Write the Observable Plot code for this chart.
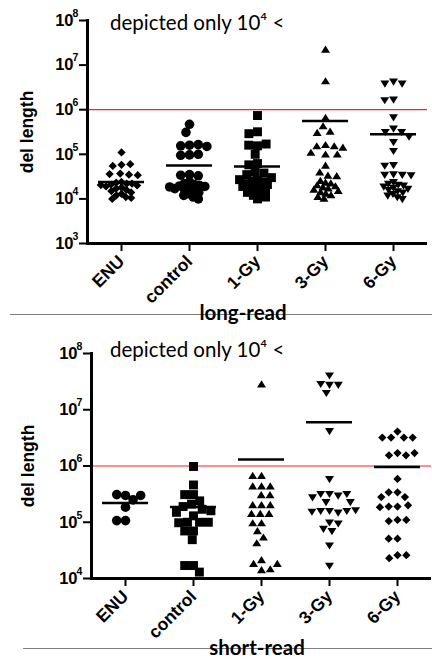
<!DOCTYPE html>
<html>
<head>
<meta charset="utf-8">
<script src="https://cdn.jsdelivr.net/npm/d3@7"></script>
<script src="https://cdn.jsdelivr.net/npm/@observablehq/plot@0.6"></script>
<style>
  body { margin: 0; background: #fff; }
  #wrap { position: relative; width: 432px; height: 660px; overflow: hidden; background: #fff; }
  .panel { position: absolute; left: 0; }
  .note { position: absolute; font-family: Lato, "Open Sans", sans-serif; font-size: 20.5px; line-height: 20px; color: #000; white-space: nowrap; }
  .sep { position: absolute; height: 1px; background: #7f7f7f; }
  .cap { position: absolute; width: 200px; text-align: center; font-family: Lato, "Open Sans", sans-serif; font-weight: bold; font-size: 20.5px; line-height: 20px; color: #000; }
  svg [aria-label="y-axis label"] text { font-size: 17.5px; }
</style>
</head>
<body>
<div id="wrap">
  <div class="panel" id="top" style="top:0px"></div>
  <div class="note" style="left:110px;top:12px">depicted only 10⁴ &lt;</div>
  <div class="sep" style="left:10px;top:314px;width:422px"></div>
  <div class="cap" style="left:143px;top:302px">long-read</div>

  <div class="panel" id="bottom" style="top:330px"></div>
  <div class="note" style="left:110px;top:339px">depicted only 10⁴ &lt;</div>
  <div class="sep" style="left:23px;top:648px;width:409px"></div>
  <div class="cap" style="left:157px;top:637px">short-read</div>
</div>
<script>
// ---------- data ----------
const groups = ["ENU", "control", "1-Gy", "3-Gy", "6-Gy"];

// long-read deletion lengths (bp)
const longENU = [110000, 58000, 55000, 60000, 37000, 35000, 36000, 34000, 24000, 23000, 22000, 22000, 21000, 20000, 19000, 18000, 17000, 16000, 15000, 14000, 13000, 12000, 11000, 10000, 10500, 20500];
const longControl = [470000, 310000, 160000, 155000, 165000, 150000, 97000, 95000, 100000, 35000, 34000, 33000, 24000, 22000, 21000, 20000, 19500, 19000, 18000, 17000, 16000, 15000, 14000, 13000, 12000, 11000, 10000, 18500];
const longGy1 = [740000, 320000, 290000, 155000, 160000, 170000, 100000, 62000, 58000, 40000, 38000, 35000, 30000, 27000, 26000, 25000, 24000, 22000, 21000, 20000, 19000, 18000, 17000, 16000, 15000, 14000, 13000, 12000, 11000, 10000];
const longGy3 = [22000000, 4300000, 650000, 420000, 320000, 300000, 160000, 150000, 150000, 140000, 107000, 98000, 98000, 55000, 39000, 33000, 32000, 23000, 25000, 22000, 20000, 19000, 18000, 17000, 16000, 15000, 14000, 13000, 12000, 11000, 10000];
const longGy6 = [4300000, 3900000, 3900000, 1700000, 1650000, 680000, 380000, 320000, 320000, 250000, 190000, 120000, 58000, 56000, 36000, 35000, 35000, 34000, 24000, 22000, 21000, 20000, 19000, 18000, 17000, 16000, 15000, 14000, 13000, 12000, 11000, 10000];
const longMeans = [24000, 56000, 53000, 560000, 280000];

// short-read deletion lengths (bp)
const shortENU = [300000, 310000, 250000, 300000, 185000, 107000, 107000];
const shortControl = [980000, 460000, 310000, 310000, 240000, 210000, 190000, 170000, 160000, 150000, 130000, 100000, 100000, 100000, 98000, 70000, 70000, 49000, 17000, 17000, 13000];
const shortGy1 = [28000000, 660000, 660000, 430000, 430000, 430000, 300000, 300000, 200000, 200000, 200000, 140000, 140000, 140000, 95000, 95000, 69000, 53000, 42000, 21000, 18000, 14000, 14500, 18000];
const shortGy3 = [41000000, 28000000, 29000000, 20000000, 28000000, 4200000, 590000, 320000, 320000, 300000, 320000, 280000, 230000, 230000, 160000, 160000, 150000, 160000, 155000, 165000, 100000, 77000, 96000, 70000, 39000, 17000];
const shortGy6 = [4100000, 3200000, 3200000, 3200000, 3200000, 1700000, 1550000, 1550000, 1700000, 590000, 340000, 340000, 280000, 280000, 190000, 190000, 200000, 185000, 110000, 105000, 110000, 51000, 51000, 26000, 23000, 26000];
const shortMeans = [220000, 186000, 1300000, 6000000, 960000];

const longTicks = [1e3, 1e4, 1e5, 1e6, 1e7, 1e8];
const shortTicks = [1e4, 1e5, 1e6, 1e7, 1e8];
const threshold = 1e6;

// ---------- symbols ----------
const circle = {draw(ctx, size) { const r = Math.sqrt(size) * 0.6; ctx.moveTo(r, 0); ctx.arc(0, 0, r, 0, 2 * Math.PI); }};
const square = {draw(ctx, size) { const h = Math.sqrt(size) * 0.56; ctx.rect(-h, -h, 2 * h, 2 * h); }};
const diamond = {draw(ctx, size) { const h = Math.sqrt(size) * 0.52; ctx.moveTo(0, -h); ctx.lineTo(h, 0); ctx.lineTo(0, h); ctx.lineTo(-h, 0); ctx.closePath(); }};
const triUp = {draw(ctx, size) { const w = Math.sqrt(size) * 0.56; const t = w * 1.6; ctx.moveTo(0, -t * 0.6); ctx.lineTo(w, t * 0.4); ctx.lineTo(-w, t * 0.4); ctx.closePath(); }};
const triDown = {draw(ctx, size) { const w = Math.sqrt(size) * 0.56; const t = w * 1.6; ctx.moveTo(0, t * 0.6); ctx.lineTo(w, -t * 0.4); ctx.lineTo(-w, -t * 0.4); ctx.closePath(); }};

const expo = d => String(Math.round(Math.log10(d)));

function panel({series, means, symbols, ticks, domain, marginTop, marginLeft, marginRight, height, denseBelow}) {
  const rows = series.map((vals, i) => vals.map(v => ({group: groups[i], value: v})));
  const meanRows = means.map((m, i) => ({group: groups[i], mean: m}));
  const marks = [
    Plot.ruleY([threshold], {stroke: "#ff2020", strokeWidth: 1.2}),
    Plot.ruleY([domain[0]], {stroke: "black", strokeWidth: 3}),
    Plot.frame({anchor: "left", stroke: "black", strokeWidth: 3, facetAnchor: "left"}),
  ];
  rows.forEach((r, i) => {
    const opts = {fx: "group", y: "value", r: 4.5, symbol: symbols[i], fill: "black", stroke: "none"};
    const sparse = denseBelow ? r.filter(d => d.value > denseBelow) : r;
    const dense = denseBelow ? r.filter(d => d.value <= denseBelow) : [];
    marks.push(Plot.dot(sparse, Plot.dodgeX({anchor: "middle", r: 4, padding: 0.8}, opts)));
    if (dense.length) marks.push(Plot.dot(dense, Plot.dodgeX({anchor: "middle", r: 2.6, padding: 0.2}, opts)));
  });
  marks.push(Plot.tickY(meanRows, {fx: "group", y: "mean", stroke: "black", strokeWidth: 2.5, insetLeft: 11, insetRight: 11}));
  marks.push(Plot.axisY(ticks, {tickSize: 8, strokeWidth: 2, tickPadding: 6, tickFormat: () => "10", fontSize: 16.5, fontWeight: "bold",
    label: "del length", labelAnchor: "center", labelOffset: marginLeft - 20, labelArrow: "none"}));
  marks.push(Plot.axisY(ticks, {tickSize: 0, tickPadding: 6, tickFormat: expo, fontSize: 10.5, fontWeight: "bold", dy: -7, textAnchor: "start", dx: -9, label: null}));
  marks.push(Plot.axisFx({anchor: "bottom", tickSize: 8, strokeWidth: 2, tickRotate: -45, tickPadding: 7, fontSize: 17.5, fontWeight: "bold", label: null}));
  return Plot.plot({
    width: 432, height, marginTop, marginBottom: 57, marginLeft, marginRight,
    style: {fontFamily: "'Liberation Sans', Arial, sans-serif", color: "black", background: "white", overflow: "visible"},
    fx: {domain: groups, padding: 0},
    y: {type: "log", domain},
    marks
  });
}

document.getElementById("top").append(panel({
  series: [longENU, longControl, longGy1, longGy3, longGy6],
  means: longMeans,
  symbols: [diamond, circle, square, triUp, triDown],
  ticks: longTicks, domain: [1e3, 1e8],
  marginTop: 20, marginLeft: 87, marginRight: 5, height: 300, denseBelow: 26000
}));
document.getElementById("bottom").append(panel({
  series: [shortENU, shortControl, shortGy1, shortGy3, shortGy6],
  means: shortMeans,
  symbols: [circle, square, triUp, triDown, diamond],
  ticks: shortTicks, domain: [1e4, 1e8],
  marginTop: 23, marginLeft: 90, marginRight: 0, height: 305, denseBelow: null
}));
</script>
</body>
</html>
